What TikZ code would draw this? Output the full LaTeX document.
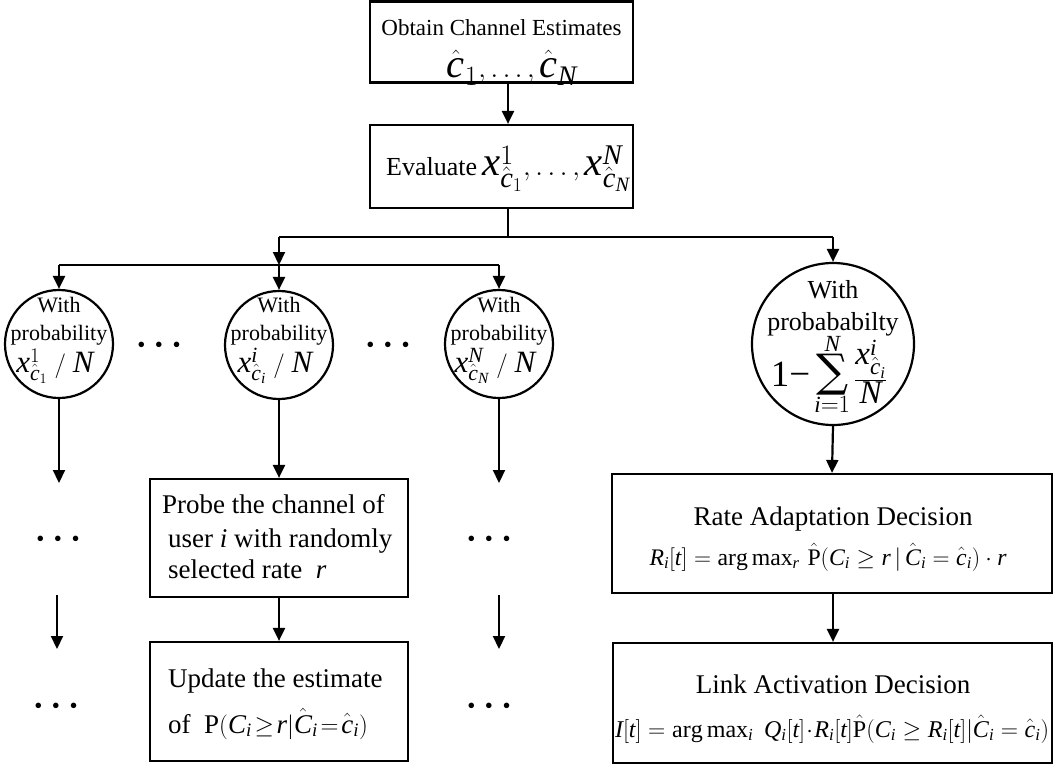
\documentclass[tikz,border=0pt]{standalone}
\usepackage{graphicx}
\usepackage{fontspec}
\setmainfont{Liberation Serif}
\newfontfamily\symf{DejaVu Serif}
\usetikzlibrary{arrows.meta}
\newcommand{\fs}[1]{\fontsize{#1}{#1}\selectfont}
\newcommand{\mi}[1]{\mathit{#1}}
\newcommand{\tridots}{\textbullet\hspace{9.5pt}\textbullet\hspace{9.5pt}\textbullet}
\newcommand{\bigsum}{\mathop{\hbox{\fs{45}\symf ∑}}\limits}
\begin{document}
\begin{tikzpicture}[x=1pt,y=-1pt,
  box/.style={draw,line width=2.2pt,inner sep=0pt},
  circ/.style={draw,circle,line width=2.2pt,inner sep=0pt},
  ln/.style={line width=2.2pt},
  arr/.style={line width=2.2pt,-{Triangle[length=13pt,width=12pt]}},
  txt/.style={inner sep=0pt,anchor=base},
  ltxt/.style={inner sep=0pt,anchor=base west},
  dots/.style={inner sep=0pt,font=\fs{23}}]
\useasboundingbox (0,0) rectangle (1053,766);
% boxes
\node[box,minimum width=263,minimum height=81] (b1) at (501.5,42) {};
\node[box,minimum width=263,minimum height=83] (b2) at (501.5,166.5) {};
\node[txt] (t1a) at (501.5,35) {\fs{23}Obtain Channel Estimates};
\node[txt] (t1b) at (512,77) {\resizebox{130pt}{!}{\fs{36}$\hat{\mi{c}}_1,\ldots,\hat{\mi{c}}_{\mi{N}}$}};
\node[ltxt] (t2a) at (386,175) {\fs{26}Evaluate};
\node[ltxt] (t2b) at (482,175) {\resizebox{148pt}{!}{\fs{36}$\mi{x}^{1}_{\hat{\mi{c}}_1},\ldots,\mi{x}^{\mi{N}}_{\hat{\mi{c}}_{\mi{N}}}$}};
% tree coordinates
\coordinate (xa) at (508,0);
\coordinate (j1) at (508,237);
\coordinate (j2) at (279,237);
\coordinate (j3) at (833,237);
\coordinate (k2) at (279,265);
\coordinate (k1) at (59,265);
\coordinate (k3) at (499,265);
\draw[arr] (b1.south -| xa) -- (b2.north -| xa);
\draw[ln] (b2.south -| xa) -- (j1);
\draw[ln] (j2) -- (j3);
\draw[arr] (j2) -- (k2);
\draw[ln] (k1) -- (k3);
% circles
\node[circ,minimum size=108] (c1) at (59,344) {};
\node[circ,minimum size=108] (ci) at (279,345) {};
\node[circ,minimum size=108] (cN) at (499,344) {};
\node[circ,minimum size=162] (cR) at (833,344) {};
\draw[arr] (k1) -- (c1.north);
\draw[arr] (k2) -- (ci.north);
\draw[arr] (k3) -- (cN.north);
\draw[arr] (j3) -- (cR.north);
\foreach \x/\s/\m in {59/1/1,279/\mi{i}/\mi{i},499/\mi{N}/\mi{N}}{
  \node[txt] at (\x,312) {\fs{22}With};
  \node[txt] at (\x,340) {\fs{22}probability};
  \node[txt] at (\x-4,372) {\fs{31}$\mi{x}^{\s}_{\hat{\mi{c}}_{\m}}\;/\;\mi{N}$};
}
\node[txt] at (833,298) {\fs{26}With};
\node[txt] at (833,330) {\fs{26}probababilty};
\node[txt] at (829,386) {\fs{33}$\displaystyle \hbox{\fs{37}1−}\bigsum_{\mi{i}=1}^{\mi{N}}\frac{\mi{x}^{\mi{i}}_{\hat{\mi{c}}_{\mi{i}}}}{\mi{N}}$};
% dots between circles
\node[dots] (d1) at (159,347) {\tridots};
\node[dots] (d2) at (388,347) {\tridots};
% left column
\coordinate (e1) at (59,483);
\coordinate (e3) at (499,483);
\draw[arr] (c1.south) -- (e1);
\draw[arr] (cN.south) -- (e3);
\node[dots] (d3) at (58,541) {\tridots};
\node[dots] (d4) at (489,541) {\tridots};
\coordinate (f1) at (57,595);
\coordinate (g1) at (57,649);
\coordinate (f3) at (499,595);
\coordinate (g3) at (499,649);
\draw[arr] (f1) -- (g1);
\draw[arr] (f3) -- (g3);
\node[dots] (d5) at (56,708) {\tridots};
\node[dots] (d6) at (489,708) {\tridots};
% probe / update
\node[box,minimum width=258,minimum height=118] (pb) at (279,538) {};
\node[box,minimum width=258,minimum height=119] (ub) at (279,701.5) {};
\draw[arr] (ci.south) -- (pb.north);
\draw[arr] (pb.south) -- (ub.north);
\node[ltxt] at (162,513) {\fs{27}Probe the channel of};
\node[ltxt] at (168,547) {\fs{27}user $\mi{i}$ with randomly};
\node[ltxt] at (168,578) {\fs{27}selected rate \ $\mi{r}$};
\node[ltxt] at (168,687) {\fs{27}Update the estimate};
\node[ltxt] at (168,733) {\fs{27}of \ $\mathrm{P}(\mi{C}_{\mi{i}}\!\geq\! \mi{r}|\hat{\mi{C}}_{\mi{i}}\!=\!\hat{\mi{c}}_{\mi{i}})$};
% right column
\node[box,minimum width=440,minimum height=119] (rb) at (832,533.5) {};
\node[box,minimum width=439,minimum height=120] (lb) at (832.5,703) {};
\draw[arr] (cR.south) -- (rb.north);
\draw[arr] (rb.south -| cR.south) -- (lb.north -| cR.south);
\node[txt] at (833,525) {\fs{27}Rate Adaptation Decision};
\node[txt] at (828,565) {\resizebox{357pt}{!}{\fs{25}$\mi{R}_{\mi{i}}[\mi{t}]=\arg\max\nolimits_{\mi{r}}\,\hat{\mathrm{P}}(\mi{C}_{\mi{i}}\geq \mi{r}\,|\,\hat{\mi{C}}_{\mi{i}}=\hat{\mi{c}}_{\mi{i}})\cdot \mi{r}$}};
\node[txt] at (833,693) {\fs{27}Link Activation Decision};
\node[txt] at (832,737) {\resizebox{434pt}{!}{\fs{25}$\mi{I}[\mi{t}]=\arg\max\nolimits_{\mi{i}}\;\mi{Q}_{\mi{i}}[\mi{t}]\!\cdot\! \mi{R}_{\mi{i}}[\mi{t}]\hat{\mathrm{P}}(\mi{C}_{\mi{i}}\geq \mi{R}_{\mi{i}}[\mi{t}]|\hat{\mi{C}}_{\mi{i}}=\hat{\mi{c}}_{\mi{i}})$}};
\end{tikzpicture}
\end{document}
